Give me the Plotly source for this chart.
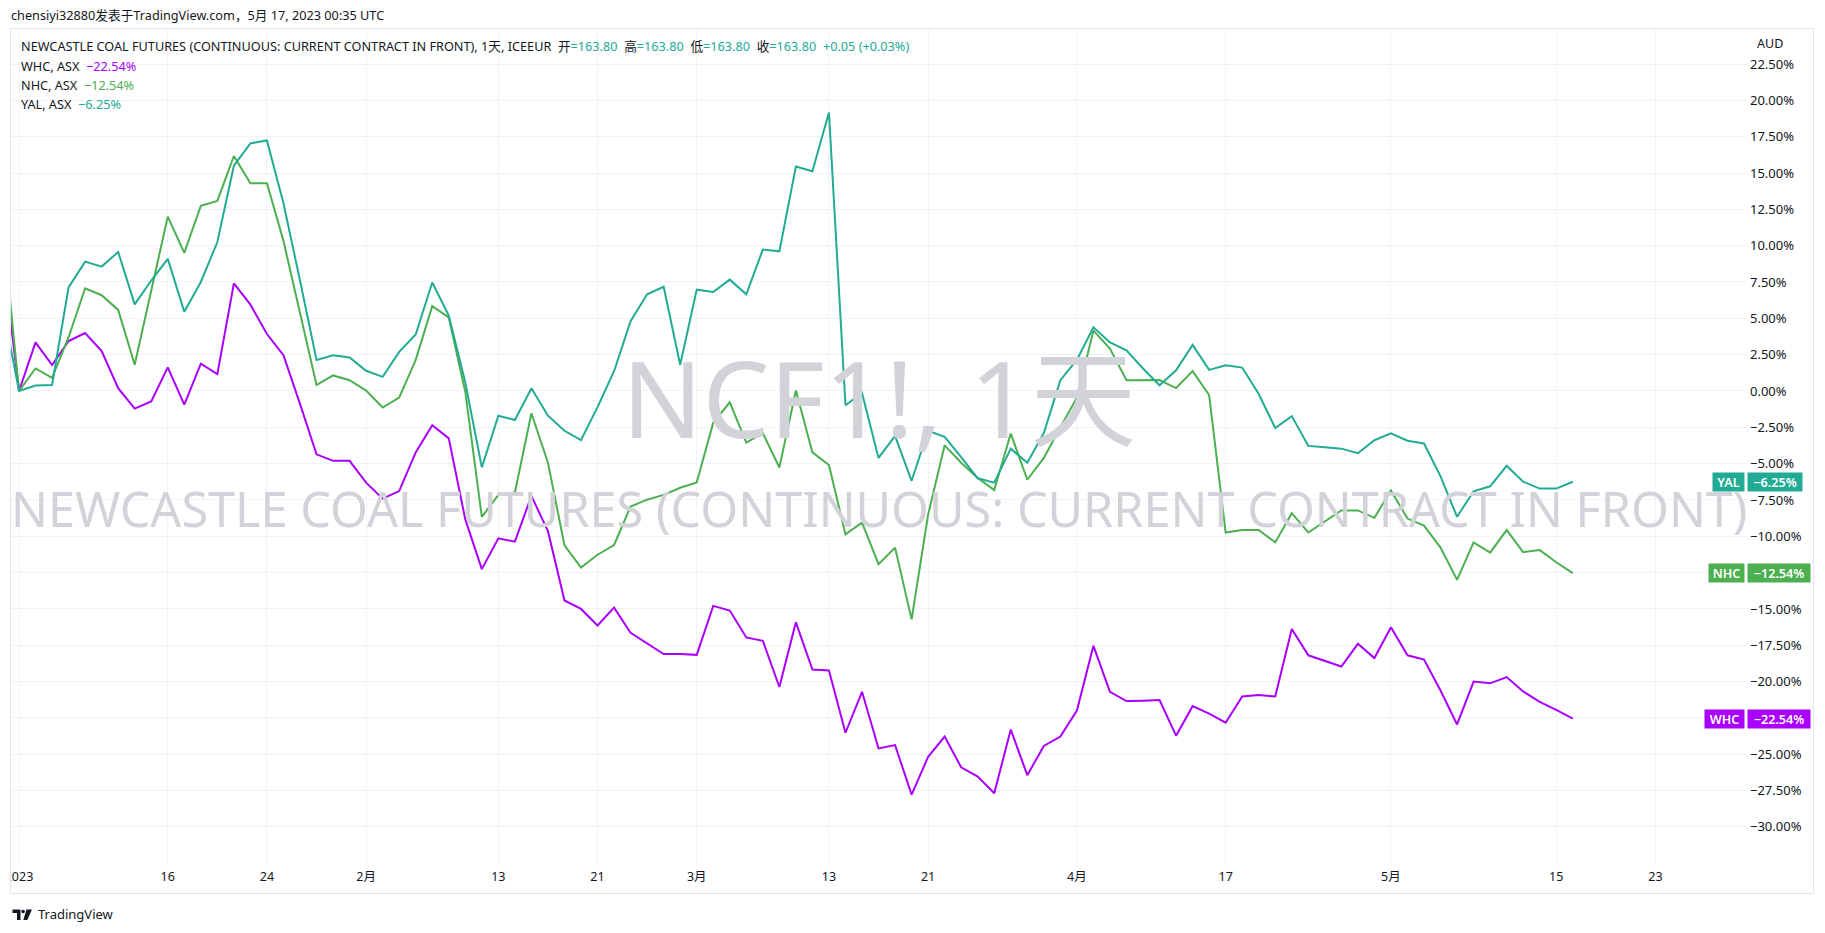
import pandas as pd
import plotly.graph_objects as go

# ---------------- data ----------------
holidays = ["2023-01-02", "2023-04-07"]          # ICE closed
calendar = [d.strftime("%Y-%m-%d") for d in pd.bdate_range("2022-12-30", "2023-06-09")
            if d.strftime("%Y-%m-%d") not in holidays]
trade_days = [d for d in calendar if d <= "2023-05-16"]

yal = [5.9, 0, 0.37, 0.41, 7.13, 8.9, 8.56, 9.57, 5.96, 7.6, 9.09, 5.45, 7.5, 10.25, 15.5, 17.04, 17.24,
       12.92, 7.6, 2.14, 2.46, 2.3, 1.39, 0.97, 2.69, 3.89, 7.46, 5.19, 0.58, -5.26, -1.7, -2.0, 0.19,
       -1.7, -2.74, -3.39, -1.11, 1.36, 4.8, 6.65, 7.17, 1.81, 6.97, 6.81, 7.66, 6.65, 9.73, 9.61, 15.45,
       15.12, 19.16, -0.98, -0.14, -4.61, -3.09, -6.18, -2.74, -3.16, -4.55, -6.01, -6.31, -3.97, -4.94,
       -2.9, 0.74, 2.14, 4.38, 3.34, 2.79, 1.55, 0.39, 1.42, 3.17, 1.45, 1.77, 1.61, -0.21, -2.55, -1.73,
       -3.78, -3.87, -3.97, -4.28, -3.39, -2.91, -3.42, -3.61, -5.88, -8.66, -6.9, -6.56, -5.15, -6.24,
       -6.72, -6.72, -6.25]
nhc = [11.6, 0, 1.55, 0.9, 3.7, 7.07, 6.59, 5.58, 1.81, 6.9, 12.0, 9.5, 12.75, 13.08, 16.17, 14.29, 14.29,
       10.33, 5.45, 0.41, 1.07, 0.74, 0.03, -1.14, -0.46, 2.14, 5.84, 5.06, -0.07, -8.67, -7.15, -6.99,
       -1.53, -4.94, -10.62, -12.15, -11.27, -10.6, -7.96, -7.48, -7.15, -6.66, -6.3, -2.18, -0.78, -3.55,
       -2.9, -5.27, 0.03, -4.22, -5.1, -9.87, -9.06, -11.92, -10.78, -15.72, -8.51, -3.74, -4.94, -5.98,
       -6.82, -2.93, -6.11, -4.61, -2.5, -0.46, 4.15, 2.92, 0.74, 0.74, 0.75, 0.2, 1.37, -0.28, -9.74,
       -9.57, -9.57, -10.42, -8.41, -9.74, -8.97, -8.22, -8.22, -8.73, -6.84, -8.78, -9.26, -10.78, -13.0,
       -10.42, -11.12, -9.57, -11.09, -10.95, -11.79, -12.54]
whc = [9.5, 0, 3.34, 1.78, 3.44, 3.99, 2.75, 0.19, -1.21, -0.72, 1.62, -0.94, 1.88, 1.16, 7.4, 5.94, 3.92,
       2.46, -0.89, -4.36, -4.81, -4.81, -6.31, -7.41, -6.89, -4.23, -2.35, -3.26, -8.84, -12.26, -10.14,
       -10.37, -7.22, -9.65, -14.42, -15.0, -16.14, -14.91, -16.64, -17.35, -18.1, -18.1, -18.16, -14.79,
       -15.11, -16.96, -17.19, -20.37, -15.92, -19.17, -19.24, -23.52, -20.7, -24.6, -24.37, -27.78,
       -25.18, -23.78, -25.9, -26.54, -27.68, -23.3, -26.44, -24.43, -23.78, -21.99, -17.54, -20.7,
       -21.34, -21.31, -21.27, -23.72, -21.69, -22.2, -22.83, -21.02, -20.92, -21.02, -16.38, -18.19,
       -18.6, -18.96, -17.4, -18.38, -16.26, -18.19, -18.48, -20.61, -22.95, -20.0, -20.12, -19.69,
       -20.68, -21.4, -21.94, -22.54]

tick_dates = ["2023-01-03", "2023-01-16", "2023-01-24", "2023-02-01", "2023-02-13", "2023-02-21",
              "2023-03-01", "2023-03-13", "2023-03-21", "2023-04-03", "2023-04-17", "2023-05-01",
              "2023-05-15", "2023-05-23"]
tick_labels = ["2023", "16", "24", "2月", "13", "21", "3月", "13", "21", "4月", "17", "5月", "15", "23"]

y_ticks = [-30 + 2.5 * i for i in range(22)]
series = [("WHC", whc, "#aa00ff", "−22.54%"), ("NHC", nhc, "#4caf50", "−12.54%"),
          ("YAL", yal, "#22ab94", "−6.25%")]

# bar index on the trading-day time scale (first session of 2023 = 0)
base = calendar.index("2023-01-03")
xpos = lambda d: calendar.index(d) - base

# ---------------- layout helpers ----------------
W, H = 1825, 933
PL, PR, PT, PB = 11, 1747, 29, 866
FONT = "Noto Sans, Noto Sans CJK SC, sans-serif"
TXT = "#131722"


def px(x):
    return (x - PL) / (PR - PL)


def py(y):
    return (PB - y) / (PB - PT)


def fmt(v):
    s = f"{abs(v):.2f}%"
    return ("−" + s) if v < 0 else s


hidden = {-12.5, -22.5}   # covered by the price labels in the reference

fig = go.Figure()
for name, vals, col, _ in series:
    fig.add_trace(go.Scatter(x=[xpos(d) for d in trade_days], y=vals, mode="lines", name=name,
                             line=dict(color=col, width=2), hoverinfo="skip"))

ann = []
OFF = 1  # annotation inner offset
ann.append(dict(text="chensiyi32880发表于TradingView.com，5月 17, 2023 00:35 UTC", x=px(10 - OFF), y=py(15),
                xanchor="left", yanchor="middle", font=dict(size=12.7, color=TXT)))
teal = "#22ab94"
sp = lambda t, c: f"<span style='color:{c}'>{t}</span>"
ann.append(dict(text="NEWCASTLE COAL FUTURES (CONTINUOUS: CURRENT CONTRACT IN FRONT), 1天, ICEEUR  "
                     + "开" + sp("=163.80", teal) + "  高" + sp("=163.80", teal) + "  低" + sp("=163.80", teal)
                     + "  收" + sp("=163.80", teal) + "  " + sp("+0.05 (+0.03%)", teal),
                x=px(20 - OFF), y=py(46.5), xanchor="left", yanchor="middle", font=dict(size=12.7, color=TXT)))
for (name, vals, col, lab), yy in zip(series, [66, 85, 104]):
    ann.append(dict(text=f"{name}, ASX  " + sp(lab, col), x=px(20 - OFF), y=py(yy), xanchor="left",
                    yanchor="middle", font=dict(size=12.7, color=TXT)))
ann.append(dict(text="AUD", x=px(1756 - OFF), y=py(44), xanchor="left", yanchor="middle",
                font=dict(size=12.5, color=TXT)))
# watermark
wm = "#d1d3d8"
ann.append(dict(text="NCF1!, 1天", x=px(879), y=py(397), xanchor="center", yanchor="middle",
                font=dict(size=106, color=wm)))
ann.append(dict(text="NEWCASTLE COAL FUTURES (CONTINUOUS: CURRENT CONTRACT IN FRONT)", x=px(879), y=py(508),
                xanchor="center", yanchor="middle", font=dict(size=48.6, color=wm)))
# TradingView footer
ann.append(dict(text="TradingView", x=px(37 - OFF), y=py(914), xanchor="left", yanchor="middle",
                font=dict(size=13, color=TXT)))
# price labels
name_w = {"YAL": 31, "NHC": 35, "WHC": 39}
val_w = {"YAL": 54, "NHC": 62, "WHC": 62}
for name, vals, col, lab in series:
    last = vals[-1]
    ann.append(dict(text=name, x=px(1744.5), y=last, yref="y", xanchor="right", yanchor="middle",
                    bgcolor=col, borderpad=0, width=name_w[name], height=18,
                    font=dict(size=12.6, color="white", weight=600)))
    ann.append(dict(text=lab, x=px(1746.5), y=last, yref="y", xanchor="left", yanchor="middle",
                    bgcolor=col, borderpad=0, width=val_w[name], height=18,
                    font=dict(size=12.6, color="white", weight=600)))
for a in ann:
    a.setdefault("xref", "paper")
    a.setdefault("yref", "paper")
    a["showarrow"] = False

LX = 1.5  # logo x shift
shapes = [
    dict(type="rect", xref="paper", yref="paper", x0=px(10.5), x1=px(1813.5), y0=py(893.5), y1=py(28.5),
         line=dict(color="#e0e3eb", width=1), fillcolor="rgba(0,0,0,0)", layer="above"),
    dict(type="rect", xref="paper", yref="paper", x0=px(0), x1=px(10), y0=py(892), y1=py(866),
         line=dict(width=0), fillcolor="white", layer="above"),
    # TradingView logo
    dict(type="path", xref="paper", yref="paper", layer="above", fillcolor=TXT, line=dict(width=0),
         path=f"M{px(11 + LX)},{py(909.5)} L{px(19 + LX)},{py(909.5)} L{px(19 + LX)},{py(920)} "
              f"L{px(15.5 + LX)},{py(920)} L{px(15.5 + LX)},{py(913)} L{px(11 + LX)},{py(913)} Z"),
    dict(type="circle", xref="paper", yref="paper", layer="above", fillcolor=TXT, line=dict(width=0),
         x0=px(19.8 + LX), x1=px(23.4 + LX), y0=py(913.3), y1=py(909.7)),
    dict(type="path", xref="paper", yref="paper", layer="above", fillcolor=TXT, line=dict(width=0),
         path=f"M{px(25 + LX)},{py(909.5)} L{px(30.5 + LX)},{py(909.5)} L{px(25.8 + LX)},{py(920)} "
              f"L{px(21.8 + LX)},{py(920)} Z"),
]

fig.update_layout(
    width=W, height=H, autosize=False,
    margin=dict(l=PL, r=W - PR, t=PT, b=H - PB, pad=0, autoexpand=False),
    paper_bgcolor="white", plot_bgcolor="white",
    showlegend=False,
    font=dict(family=FONT, color=TXT, size=12),
    annotations=ann, shapes=shapes,
    xaxis=dict(range=[-0.484, 104.54], automargin=False,
               tickmode="array", tickvals=[xpos(d) for d in tick_dates], ticktext=tick_labels,
               showgrid=True, gridcolor="#f0f3fa", gridwidth=1, zeroline=False, showline=False,
               ticks="", ticklabelstandoff=1, tickfont=dict(size=12.5, color=TXT), fixedrange=True),
    yaxis=dict(range=[-32.69, 24.91], side="right", automargin=False, tickmode="array", tickvals=y_ticks,
               ticktext=["" if v in hidden else fmt(v) for v in y_ticks], showgrid=True,
               gridcolor="#f0f3fa", gridwidth=1, zeroline=False, showline=False, ticks="",
               ticklabelstandoff=2, tickfont=dict(size=13, color=TXT), fixedrange=True),
)

fig.write_html("out.html", config={"displayModeBar": False},
               post_script="document.body.style.margin='0';document.body.style.overflow='hidden';")
